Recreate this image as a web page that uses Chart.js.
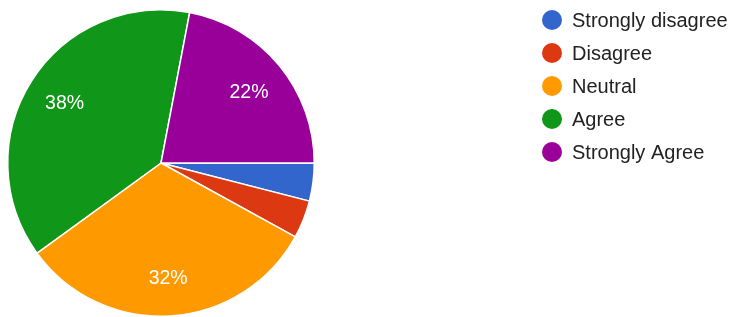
<!DOCTYPE html>
<html>
<head>
<meta charset="utf-8">
<script src="https://cdn.jsdelivr.net/npm/chart.js@4/dist/chart.umd.min.js"></script>
<style>
  html, body { margin: 0; padding: 0; background: #fff; }
  #wrap { position: relative; width: 731px; height: 317px; }
</style>
</head>
<body>
<div id="wrap"><canvas id="pieChart"></canvas></div>
<script>
// answer categories and share of responses (%)
const categories = ['Strongly disagree', 'Disagree', 'Neutral', 'Agree', 'Strongly Agree'];
const responseShares = [4, 4, 32, 38, 22];
const sliceColors = ['#3366cc', '#dc3912', '#ff9900', '#109618', '#990099'];

const FONT = 'Arial, "Liberation Sans", sans-serif';

// percent labels inside the bigger slices (small ones stay unlabelled, like Google Forms)
const sliceLabels = {
    id: 'sliceLabels',
    afterDatasetsDraw(chart) {
        const ctx = chart.ctx;
        const meta = chart.getDatasetMeta(0);
        const values = chart.data.datasets[0].data;
        const total = values.reduce((a, b) => a + b, 0);
        ctx.save();
        ctx.font = '19.5px ' + FONT;
        ctx.fillStyle = '#ffffff';
        ctx.textAlign = 'center';
        ctx.textBaseline = 'middle';
        meta.data.forEach((arc, i) => {
            const pct = values[i] / total * 100;
            if (pct < 5) return;
            const p = arc.getProps(['x', 'y', 'startAngle', 'endAngle', 'outerRadius'], true);
            const mid = (p.startAngle + p.endAngle) / 2;
            const r = p.outerRadius * 0.745;
            ctx.fillText(Math.round(pct) + '%', p.x + Math.cos(mid) * r, p.y + Math.sin(mid) * r + 2);
        });
        ctx.restore();
    }
};

// legend column on the right
const sideLegend = {
    id: 'sideLegend',
    afterDraw(chart) {
        const ctx = chart.ctx;
        ctx.save();
        ctx.font = '20px ' + FONT;
        ctx.textBaseline = 'middle';
        ctx.textAlign = 'left';
        chart.data.labels.forEach((label, i) => {
            const y = 20 + i * 33;
            ctx.beginPath();
            ctx.arc(552, y, 10, 0, Math.PI * 2);
            ctx.fillStyle = sliceColors[i];
            ctx.fill();
            ctx.fillStyle = '#222222';
            ctx.fillText(label, 572, y + 1);
        });
        ctx.restore();
    }
};

new Chart(document.getElementById('pieChart'), {
    type: 'pie',
    data: {
        labels: categories,
        datasets: [{
            data: responseShares,
            backgroundColor: sliceColors,
            borderColor: '#ffffff',
            borderWidth: 1.5
        }]
    },
    options: {
        responsive: true,
        maintainAspectRatio: false,
        animation: false,
        rotation: 90,
        layout: { padding: { left: 7, top: 9, right: 416, bottom: 0 } },
        plugins: {
            legend: { display: false },
            tooltip: { enabled: false }
        }
    },
    plugins: [sliceLabels, sideLegend]
});
</script>
</body>
</html>
